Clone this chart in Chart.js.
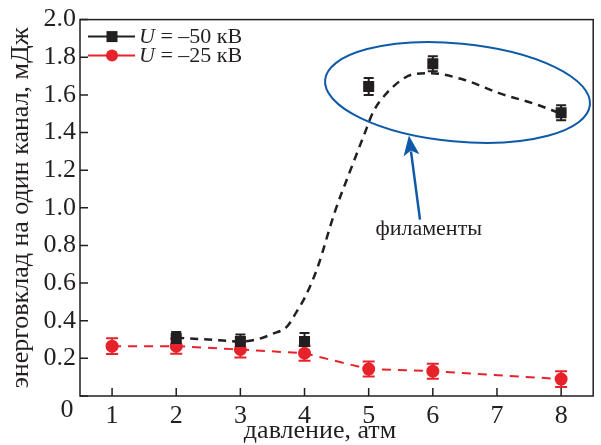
<!DOCTYPE html>
<html>
<head>
<meta charset="utf-8">
<script src="https://cdn.jsdelivr.net/npm/chart.js@4.4.1/dist/chart.umd.min.js"></script>
<style>
  body { margin: 0; background: #fff; }
  #wrap { width: 601px; height: 445px; }
</style>
</head>
<body>
<div id="wrap"><canvas id="chart"></canvas></div>
<script>
// values
const pressure50 = [2, 3, 4, 5, 6, 8];
const energy50 = [0.305, 0.29, 0.29, 1.645, 1.765, 1.505];
const err50 = [0.035, 0.037, 0.045, 0.045, 0.04, 0.04];

const pressure25 = [1, 2, 3, 4, 5, 6, 8];
const energy25 = [0.265, 0.265, 0.247, 0.227, 0.143, 0.132, 0.09];
const err25 = [0.042, 0.04, 0.042, 0.04, 0.04, 0.04, 0.042];

// dashed guide curve for U = -50 kV
const fitPressure = [2, 2.5, 3, 3.25, 3.5, 3.73, 3.88, 4.0, 4.2, 4.47, 4.7, 4.92, 5.08, 5.27, 5.53, 5.7, 5.96, 6.45, 7.07, 7.58, 8.0];
const fitEnergy = [0.31, 0.30, 0.29, 0.30, 0.33, 0.37, 0.45, 0.52, 0.68, 0.976, 1.186, 1.38, 1.516, 1.605, 1.684, 1.71, 1.715, 1.684, 1.605, 1.553, 1.50];

const xTicks = [1, 2, 3, 4, 5, 6, 7, 8];
const yTicks = [0, 0.2, 0.4, 0.6, 0.8, 1.0, 1.2, 1.4, 1.6, 1.8, 2.0];
const yTickLabels = ['0', '0.2', '0.4', '0.6', '0.8', '1.0', '1.2', '1.4', '1.6', '1.8', '2.0'];

const SERIF = '"Liberation Serif", "Times New Roman", serif';
const INK = '#231f20';
const RED = '#e8222b';
const BLUE = '#0f5aa8';

const toXY = (xs, ys) => xs.map((x, i) => ({ x: x, y: ys[i] }));

// frame, inward ticks, error bars, annotation and legend
const decor = {
  id: 'decor',
  beforeDatasetsDraw(chart) {
    const ctx = chart.ctx, y = chart.scales.y;
    const bars = [[0, err50, INK, 5], [1, err25, RED, 6]];
    ctx.save();
    bars.forEach(([idx, errs, color, cap]) => {
      const ds = chart.data.datasets[idx];
      chart.getDatasetMeta(idx).data.forEach((pt, i) => {
        const v = ds.data[i].y;
        const top = y.getPixelForValue(v + errs[i]);
        const bot = y.getPixelForValue(v - errs[i]);
        ctx.strokeStyle = color;
        ctx.lineWidth = 2;
        ctx.beginPath();
        ctx.moveTo(pt.x, top); ctx.lineTo(pt.x, bot);
        ctx.moveTo(pt.x - cap, top); ctx.lineTo(pt.x + cap, top);
        ctx.moveTo(pt.x - cap, bot); ctx.lineTo(pt.x + cap, bot);
        ctx.stroke();
      });
    });
    ctx.restore();
  },
  afterDraw(chart) {
    const ctx = chart.ctx, a = chart.chartArea;
    const xs = chart.scales.x, ys = chart.scales.y;
    ctx.save();

    // frame
    ctx.strokeStyle = INK;
    ctx.lineWidth = 1.5;
    ctx.strokeRect(a.left, a.top, a.right - a.left, a.bottom - a.top);

    // inward ticks
    ctx.beginPath();
    xTicks.forEach(v => {
      const px = xs.getPixelForValue(v);
      ctx.moveTo(px, a.bottom); ctx.lineTo(px, a.bottom - 8);
    });
    yTicks.forEach(v => {
      const py = ys.getPixelForValue(v);
      ctx.moveTo(a.left, py); ctx.lineTo(a.left + 8, py);
    });
    ctx.stroke();

    // corner zero and x title
    ctx.fillStyle = INK;
    ctx.font = '26px ' + SERIF;
    ctx.textAlign = 'center';
    ctx.textBaseline = 'middle';
    ctx.fillText(yTickLabels[0], a.left - 13, a.bottom + 14);
    ctx.fillText('давление, атм', 320, a.bottom + 35);

    // ellipse around the filament points
    const ex = xs.getPixelForValue(6.385), ey = ys.getPixelForValue(1.613);
    ctx.strokeStyle = BLUE;
    ctx.lineWidth = 2;
    ctx.beginPath();
    ctx.ellipse(ex, ey, 133, 49, 5.4 * Math.PI / 180, 0, 2 * Math.PI);
    ctx.stroke();

    // arrow
    const tx = xs.getPixelForValue(5.80), ty = ys.getPixelForValue(0.937);
    const hx = xs.getPixelForValue(5.627), hy = ys.getPixelForValue(1.384);
    const ang = Math.atan2(hy - ty, hx - tx);
    const hl = 20, hw = 8;
    const bx = hx - hl * Math.cos(ang), by = hy - hl * Math.sin(ang);
    ctx.lineWidth = 2.5;
    ctx.beginPath();
    ctx.moveTo(tx, ty); ctx.lineTo(bx + 4 * Math.cos(ang), by + 4 * Math.sin(ang));
    ctx.stroke();
    ctx.fillStyle = BLUE;
    ctx.beginPath();
    ctx.moveTo(hx, hy);
    ctx.lineTo(bx + hw * Math.sin(ang), by - hw * Math.cos(ang));
    ctx.lineTo(bx + 5 * Math.cos(ang), by + 5 * Math.sin(ang));
    ctx.lineTo(bx - hw * Math.sin(ang), by + hw * Math.cos(ang));
    ctx.closePath();
    ctx.fill();

    ctx.fillStyle = INK;
    ctx.font = '22px ' + SERIF;
    ctx.fillText('филаменты', xs.getPixelForValue(5.936), ys.getPixelForValue(0.884));

    // legend
    [0, 1].forEach((idx, row) => {
      const ds = chart.data.datasets[idx];
      const ly = a.top + 17 + row * 19;
      const lx = a.left + 8;
      ctx.strokeStyle = ds.borderColor;
      ctx.lineWidth = 2;
      ctx.setLineDash([]);
      ctx.beginPath();
      ctx.moveTo(lx, ly); ctx.lineTo(lx + 47, ly);
      ctx.stroke();
      ctx.fillStyle = ds.pointBackgroundColor;
      const mx = lx + 24;
      if (ds.pointStyle === 'rect') {
        ctx.fillRect(mx - 5.5, ly - 5.5, 11, 11);
      } else {
        ctx.beginPath(); ctx.arc(mx, ly, 6, 0, 2 * Math.PI); ctx.fill();
      }
      ctx.fillStyle = INK;
      ctx.textAlign = 'left';
      ctx.font = 'italic 22px ' + SERIF;
      const head = ds.label.slice(0, 1);
      ctx.fillText(head, lx + 51, ly + 1);
      const w = ctx.measureText(head).width;
      ctx.font = '22px ' + SERIF;
      ctx.fillText(ds.label.slice(1), lx + 51 + w, ly + 1);
    });

    ctx.restore();
  }
};

function drawChart() {
  new Chart(document.getElementById('chart'), {
    type: 'scatter',
    data: {
      datasets: [
        {
          label: 'U = –50 кВ',
          data: toXY(pressure50, energy50),
          showLine: false,
          pointStyle: 'rect',
          pointRadius: 7.8,
          pointBackgroundColor: INK,
          pointBorderWidth: 0,
          borderColor: INK
        },
        {
          label: 'U = –25 кВ',
          data: toXY(pressure25, energy25),
          showLine: true,
          borderColor: RED,
          borderWidth: 2,
          borderDash: [9, 7],
          pointStyle: 'circle',
          pointRadius: 6.5,
          pointBackgroundColor: RED,
          pointBorderWidth: 0
        },
        {
          label: 'fit',
          data: toXY(fitPressure, fitEnergy),
          showLine: true,
          borderColor: INK,
          borderWidth: 2.5,
          borderDash: [8, 6],
          cubicInterpolationMode: 'monotone',
          pointRadius: 0
        }
      ]
    },
    options: {
      responsive: true,
      maintainAspectRatio: false,
      animation: false,
      layout: { padding: { top: 16, right: 3, left: 0, bottom: 0 } },
      plugins: { legend: { display: false }, tooltip: { enabled: false } },
      scales: {
        x: {
          type: 'linear',
          min: 0.5,
          max: 8.5,
          grid: { display: false, drawTicks: false },
          border: { display: false },
          afterBuildTicks: s => { s.ticks = xTicks.map(v => ({ value: v })); },
          afterFit: s => { s.height = 49; },
          ticks: {
            color: INK,
            padding: 5,
            font: { family: SERIF, size: 26 },
            callback: v => String(v)
          }
        },
        y: {
          min: 0,
          max: 2,
          grid: { display: false, drawTicks: false },
          border: { display: false },
          afterBuildTicks: s => { s.ticks = yTicks.map(v => ({ value: v })); },
          afterFit: s => { s.width = 80; },
          ticks: {
            color: INK,
            padding: 4,
            font: { family: SERIF, size: 26 },
            callback: (v, i) => (i === 0 ? '' : yTickLabels[i])
          },
          title: {
            display: true,
            text: 'энерговклад на один канал, мДж',
            color: INK,
            padding: { top: 6, bottom: 0 },
            font: { family: SERIF, size: 26 }
          }
        }
      }
    },
    plugins: [decor]
  });
}

Promise.all([
  document.fonts.load('26px "Liberation Serif"', 'давление 0.2'),
  document.fonts.load('italic 22px "Liberation Serif"', 'U')
]).then(drawChart, drawChart);
</script>
</body>
</html>
